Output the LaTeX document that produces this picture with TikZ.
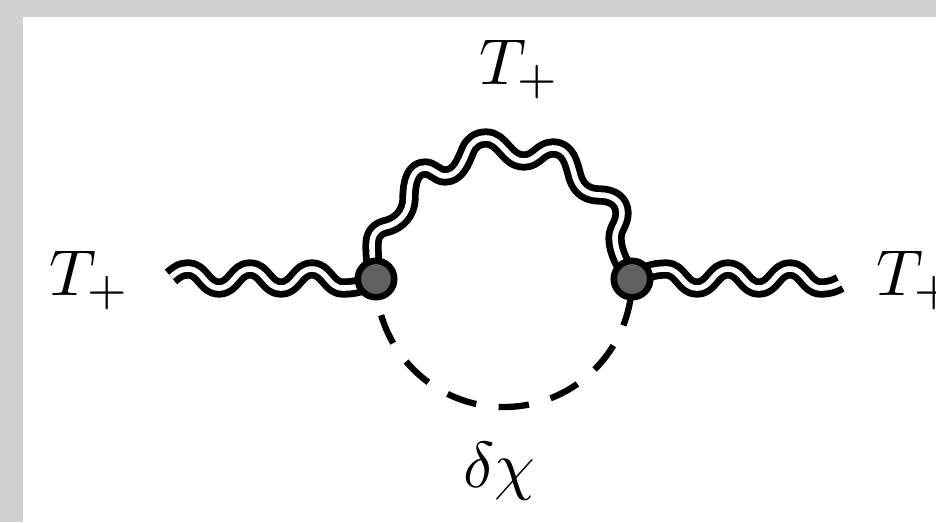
\documentclass[tikz,border=0pt]{standalone}
\begin{document}
\begin{tikzpicture}[x=1pt,y=-1pt,
  wave/.style={line width=6.8pt,double=white,double distance=5.6pt,line cap=butt,line join=round},
  vertex/.style={circle,draw=black,fill=black!62,line width=6.5pt,minimum size=36.5pt,inner sep=0pt},
  dashline/.style={line width=6.3pt,dash pattern=on 30.5pt off 22.5pt,dash phase=36pt},
  lab/.style={anchor=base west,inner sep=0pt,outer sep=0pt,scale=6.5}]
\useasboundingbox (0,0) rectangle (936,522);
\fill[black!18] (0,0) rectangle (936,522);
\fill[white] (23,17) rectangle (936,522);
\coordinate (vl) at (376,279);
\coordinate (vr) at (632,279);
\coordinate (wl) at (171,277);
\coordinate (wr) at (840,283);
\draw[dashline] (vr) arc[start angle=0,end angle=180,radius=128];
\draw[wave] (wl) .. controls (178,271) and (181,269) .. (188,269)
  .. controls (203,269) and (204,288) .. (219,288) .. controls (234,288) and (235,269) .. (250,269)
  .. controls (265,269) and (266,288) .. (281,288) .. controls (296,288) and (297,269) .. (312,269)
  .. controls (327,269) and (328,288) .. (343,288) .. controls (355,288) and (362,286) .. (vl);
\draw[wave] (vr) .. controls (645,273) and (652,269) .. (666,269)
  .. controls (681,269) and (682,288) .. (697,288) .. controls (712,288) and (713,269) .. (728,269)
  .. controls (743,269) and (744,288) .. (759,288) .. controls (774,288) and (775,269) .. (790,269)
  .. controls (805,269) and (806,288) .. (821,288) .. controls (829,288) and (835,286) .. (wr);
\draw[wave] (vl) .. controls (373,268) and (372,256) .. (372,245)
  .. controls (372,233) and (378,228) .. (388,226)
  .. controls (398,223) and (409,214) .. (409,198)
  .. controls (409,182) and (413,168) .. (425,168)
  .. controls (433,168) and (437,176) .. (445,176)
  .. controls (458,176) and (463,162) .. (468,150)
  .. controls (471,143) and (477,138) .. (486,138)
  .. controls (503,138) and (506,161) .. (524,161)
  .. controls (537,161) and (540,148) .. (553,148)
  .. controls (568,148) and (571,162) .. (575,177)
  .. controls (579,190) and (588,195) .. (600,195)
  .. controls (612,195) and (622,201) .. (622,213)
  .. controls (622,224) and (615,228) .. (615,238)
  .. controls (615,252) and (623,266) .. (vr);
\node[vertex] (a) at (vl) {};
\node[vertex] (b) at (vr) {};
\node[lab] (l1) at (49,295) {$T_+$};
\node[lab] (l2) at (876,295) {$T_+$};
\node[lab] (l3) at (479,84) {$T_+$};
\node[lab] (l4) at (463,487) {$\delta\chi$};
\end{tikzpicture}
\end{document}
